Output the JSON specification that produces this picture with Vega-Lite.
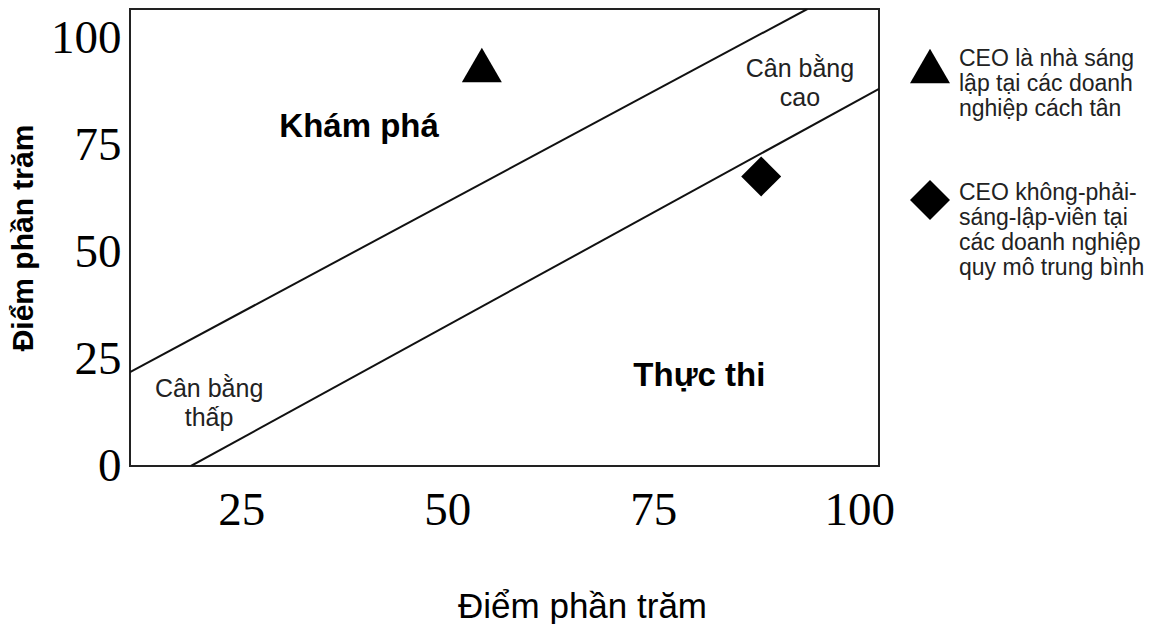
{
  "$schema": "https://vega.github.io/schema/vega-lite/v6.json",
  "width": 749,
  "height": 457,
  "padding": {"left": 8, "top": 9, "right": 0, "bottom": 0},
  "background": "white",
  "config": {
    "view": {"stroke": "#222", "strokeWidth": 2},
    "axis": {"domain": false, "ticks": false, "grid": false}
  },
  "datasets": {
    "lines": [
      {"line": "upper", "x": 11.5, "y": 22.0},
      {"line": "upper", "x": 93.7, "y": 107.0},
      {"line": "lower", "x": 18.9, "y": 0.0},
      {"line": "lower", "x": 102.4, "y": 88.3}
    ],
    "points": [
      {"group": "CEO là nhà sáng\nlập tại các doanh\nnghiệp cách tân", "x": 54.2, "y": 93.9},
      {"group": "CEO không-phải-\nsáng-lập-viên tại\ncác doanh nghiệp\nquy mô trung bình", "x": 88.1, "y": 67.8}
    ],
    "bold": [
      {"text": "Khám phá", "x": 39.3, "y": 79.4},
      {"text": "Thực thi", "x": 80.6, "y": 21.1}
    ],
    "small": [
      {"text": ["Cân bằng", "cao"], "x": 92.8, "y": 93.0},
      {"text": ["Cân bằng", "thấp"], "x": 21.1, "y": 18.0}
    ]
  },
  "encoding": {
    "x": {"field": "x", "type": "quantitative",
      "scale": {"domain": [11.5, 102.4], "nice": false, "zero": false},
      "axis": {"values": [25, 50, 75, 100], "labelFont": "Liberation Serif", "labelFontSize": 47, "labelColor": "#000", "labelPadding": 21,
        "title": "Điểm phần trăm", "titleFont": "Liberation Sans", "titleFontSize": 35, "titleFontWeight": "normal", "titleColor": "#000", "titlePadding": 56, "titleX": 452}},
    "y": {"field": "y", "type": "quantitative",
      "scale": {"domain": [0, 107], "nice": false, "zero": false},
      "axis": {"values": [0, 25, 50, 75, 100], "labelFont": "Liberation Serif", "labelFontSize": 47, "labelColor": "#000", "labelPadding": 9,
        "title": "Điểm phần trăm", "titleFont": "Liberation Sans", "titleFontSize": 30, "titleFontWeight": "bold", "titleColor": "#000", "titlePadding": 12}}
  },
  "layer": [
    {
      "data": {"name": "lines"},
      "mark": {"type": "line", "color": "#111", "strokeWidth": 2, "clip": true},
      "encoding": {"detail": {"field": "line"}}
    },
    {
      "data": {"name": "points"},
      "mark": {"type": "point", "filled": true, "color": "#000", "opacity": 1, "size": 1600},
      "encoding": {
        "shape": {"field": "group", "type": "nominal",
          "scale": {"domain": ["CEO là nhà sáng\nlập tại các doanh\nnghiệp cách tân", "CEO không-phải-\nsáng-lập-viên tại\ncác doanh nghiệp\nquy mô trung bình"], "range": ["triangle-up", "diamond"]},
          "legend": {"title": null, "orient": "none", "legendX": 779, "legendY": 36, "symbolSize": 1600, "symbolFillColor": "#000", "symbolStrokeColor": "#000", "symbolOpacity": 1,
            "labelExpr": "split(datum.label, '\\n')", "labelFont": "Liberation Sans", "labelFontSize": 23, "labelColor": "#222", "labelBaseline": "alphabetic", "labelOffset": 8, "labelLimit": 400, "rowPadding": 56, "padding": 0}}
      }
    },
    {
      "data": {"name": "bold"},
      "mark": {"type": "text", "font": "Liberation Sans", "fontWeight": "bold", "fontSize": 33, "color": "#000", "baseline": "middle"},
      "encoding": {"text": {"field": "text"}}
    },
    {
      "data": {"name": "small"},
      "mark": {"type": "text", "font": "Liberation Sans", "fontSize": 25, "color": "#222", "baseline": "middle", "lineHeight": 29},
      "encoding": {"text": {"field": "text"}}
    }
  ]
}
